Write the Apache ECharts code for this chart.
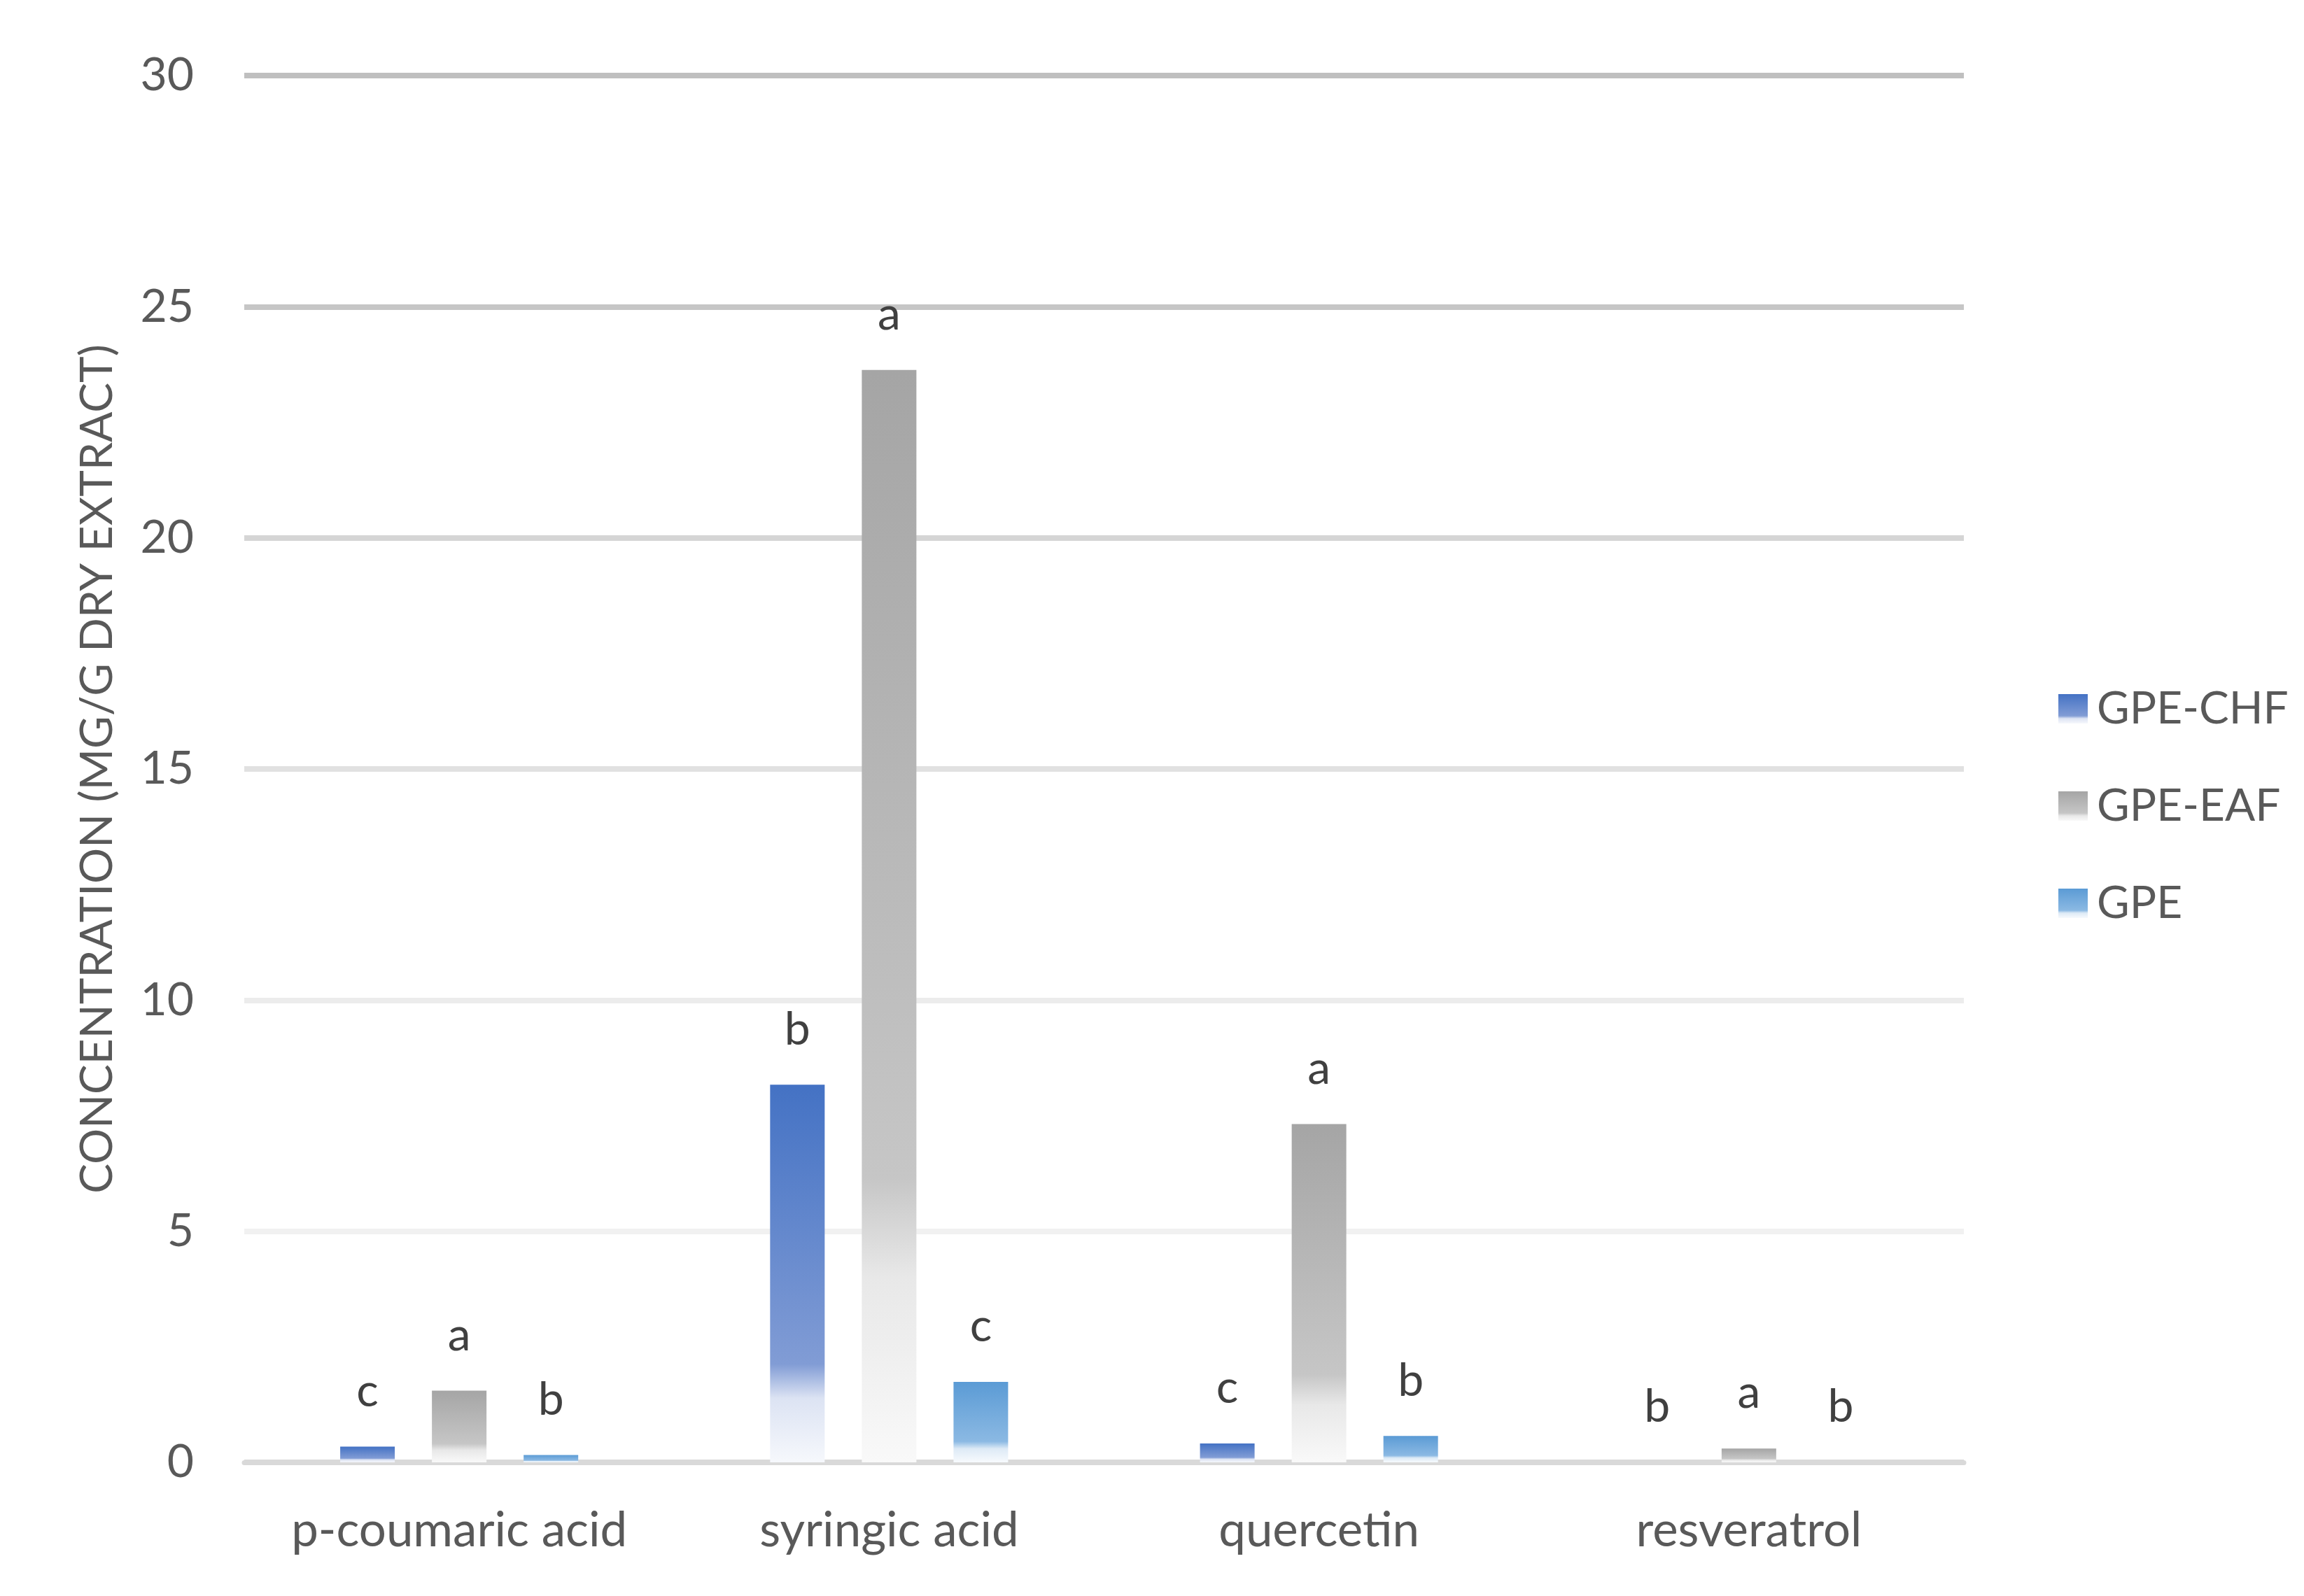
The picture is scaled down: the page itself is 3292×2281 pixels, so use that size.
<!DOCTYPE html>
<html>
<head>
<meta charset="utf-8">
<script src="https://cdn.jsdelivr.net/npm/echarts@6/dist/echarts.min.js"></script>
<style>
html,body{margin:0;padding:0;background:#fff;}
#chart{width:3292px;height:2281px;}
</style>
</head>
<body>
<div id="chart"></div>
<script>
const categories = ['p-coumaric acid', 'syringic acid', 'quercetin', 'resveratrol'];
const seriesNames = ['GPE-CHF', 'GPE-EAF', 'GPE'];
const chfValues = [0.34, 8.17, 0.41, 0];
const eafValues = [1.55, 23.63, 7.32, 0.30];
const gpeValues = [0.16, 1.74, 0.57, 0];
const chfLetters = ['c', 'b', 'c', 'b'];
const eafLetters = ['a', 'a', 'a', 'a'];
const gpeLetters = ['b', 'c', 'b', 'b'];
const yTicks = [0, 5, 10, 15, 20, 25, 30];

const FONT = 'Lato';

function grad(c0, c1, c2, c3) {
  return new echarts.graphic.LinearGradient(0, 0, 0, 1, [
    {offset: 0, color: c0},
    {offset: 0.74, color: c1},
    {offset: 0.83, color: c2},
    {offset: 1, color: c3}
  ]);
}
const fills = [
  grad('#4472C4', '#819CD5', '#DCE3F3', '#F6F8FC'),
  grad('#A5A5A5', '#C6C6C6', '#E8E8E8', '#F9F9F9'),
  grad('#5B9BD5', '#8BB9E3', '#DDEAF6', '#F7FAFD')
];
const valuesList = [chfValues, eafValues, gpeValues];
const lettersList = [chfLetters, eafLetters, gpeLetters];

const chart = echarts.init(document.getElementById('chart'), null, {renderer: 'canvas'});

const series = seriesNames.map((name, i) => ({
  name: name,
  type: 'bar',
  data: valuesList[i],
  barWidth: 78,
  barGap: '68%',
  itemStyle: {color: fills[i]},
  label: {
    show: true,
    position: 'top',
    distance: 46,
    formatter: p => lettersList[i][p.dataIndex],
    color: '#404040',
    fontFamily: FONT,
    fontSize: 66
  }
}));

chart.setOption({
  animation: false,
  backgroundColor: '#ffffff',
  grid: {left: 349, right: 486, top: 108, bottom: 191, containLabel: false},
  legend: {
    orient: 'vertical',
    left: 2936,
    top: 976,
    itemWidth: 42,
    itemHeight: 42,
    itemGap: 75,
    icon: 'rect',
    data: seriesNames,
    textStyle: {color: '#595959', fontFamily: FONT, fontSize: 64, padding: [0, 0, 0, 8]}
  },
  xAxis: {
    type: 'category',
    data: categories,
    axisTick: {show: false},
    axisLine: {show: true, lineStyle: {color: '#d9d9d9', width: 7}},
    axisLabel: {interval: 0, hideOverlap: false, color: '#595959', fontFamily: FONT, fontSize: 69, lineHeight: 80, margin: 58}
  },
  yAxis: {
    type: 'value',
    min: yTicks[0],
    max: yTicks[yTicks.length - 1],
    interval: 5,
    name: 'CONCENTRATION (MG/G DRY EXTRACT)',
    nameLocation: 'middle',
    nameGap: 178,
    nameRotate: 90,
    nameTextStyle: {color: '#595959', fontFamily: FONT, fontSize: 64},
    axisLine: {show: false},
    axisTick: {show: false},
    axisLabel: {color: '#595959', fontFamily: FONT, fontSize: 66, margin: 72},
    splitLine: {
      show: true,
      lineStyle: {
        width: 8,
        color: ['#d9d9d9', '#f1f1f1', '#ececec', '#e1e1e1', '#d5d5d5', '#c6c6c6', '#bfbfbf']
      }
    }
  },
  series: series
});
</script>
</body>
</html>
